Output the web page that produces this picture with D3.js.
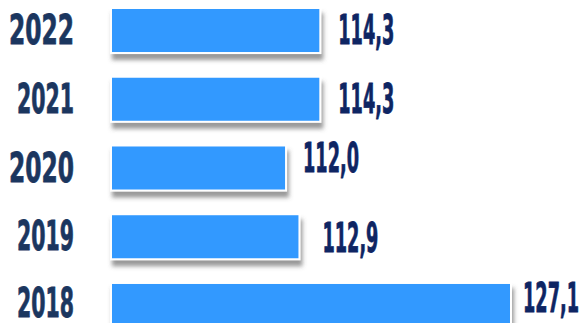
<!DOCTYPE html>
<html>
<head>
<meta charset="utf-8">
<script src="https://cdn.jsdelivr.net/npm/d3@7"></script>
<style>
  html, body { margin: 0; padding: 0; background: #ffffff; }
  svg { display: block; }
  text { font-family: "DejaVu Sans Condensed", "DejaVu Sans", sans-serif; font-weight: bold; }
</style>
</head>
<body>
<svg id="chart" width="580" height="323"></svg>
<script>
// Years shown top to bottom, with their values
const years = ["2022", "2021", "2020", "2019", "2018"];
const values = [114.3, 114.3, 112.0, 112.9, 127.1];
const valueLabels = ["114,3", "114,3", "112,0", "112,9", "127,1"];

const svg = d3.select("#chart");

// Value axis does not start at zero
const xMin = 100.25;
const x = d3.scaleLinear().domain([xMin, 127.1]).range([111, 511]);
const y = d3.scaleBand().domain(years).range([8, 328]).paddingInner(0.345).paddingOuter(0);

const defs = svg.append("defs");
const f = defs.append("filter").attr("id", "shadow")
  .attr("x", "-10%").attr("y", "-30%").attr("width", "130%").attr("height", "180%");
f.append("feDropShadow")
  .attr("dx", 2).attr("dy", 6).attr("stdDeviation", 2)
  .attr("flood-color", "#555").attr("flood-opacity", 0.6);

const rows = years.map((yr, i) => ({ yr, v: values[i], label: valueLabels[i] }));

// Bars
svg.append("g").selectAll("rect").data(rows).join("rect")
  .attr("x", x(xMin))
  .attr("y", d => y(d.yr))
  .attr("width", d => x(d.v) - x(xMin))
  .attr("height", y.bandwidth())
  .attr("fill", "#3399ff")
  .attr("stroke", "#ffffff")
  .attr("stroke-width", 2)
  .attr("filter", "url(#shadow)");

// Squeeze text horizontally to a narrow, condensed look;
// the digit "1" is drawn narrow in this lettering
function squeeze(sel, fullWidth, oneSaving) {
  sel.each(function (d) {
    const t = d3.select(this);
    const str = t.text();
    const ones = (str.match(/1/g) || []).length;
    const target = fullWidth - oneSaving * ones;
    const s = target / this.getComputedTextLength();
    const tx = +t.attr("x"), ty = +t.attr("y");
    t.attr("transform", `translate(${tx},${ty}) scale(${s},1) translate(${-tx},${-ty})`);
  });
}

const fontSize = 40;
const capShift = fontSize * 0.729 / 2;

// Year labels, right aligned
const yearText = svg.append("g").selectAll("text").data(rows).join("text")
  .attr("x", 74)
  .attr("y", d => Math.min(y(d.yr) + y.bandwidth() / 2 + capShift - 1, 317))
  .attr("text-anchor", "end")
  .attr("font-size", fontSize)
  .attr("fill", "#1b365f")
  .attr("stroke", "#1b365f")
  .attr("stroke-width", 0.8)
  .text(d => d.yr);
squeeze(yearText, 65, 8);

// Value labels beside each bar
const shift = [[0, 0], [0, 0], [-1, -10], [5, 2], [-6, -7]];
const valText = svg.append("g").selectAll("text").data(rows).join("text")
  .attr("x", (d, i) => x(d.v) + 18 + shift[i][0])
  .attr("y", (d, i) => y(d.yr) + y.bandwidth() / 2 + capShift - 1 + shift[i][1])
  .attr("text-anchor", "start")
  .attr("font-size", fontSize)
  .attr("fill", "#0e2563")
  .attr("stroke", "#0e2563")
  .attr("stroke-width", 0.8)
  .text(d => d.label);
squeeze(valText, 72, 8);
</script>
</body>
</html>
